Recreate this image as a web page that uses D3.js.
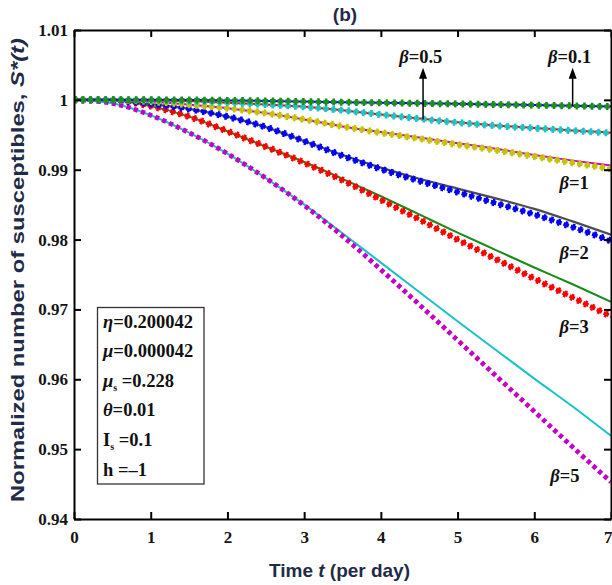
<!DOCTYPE html>
<html>
<head>
<meta charset="utf-8">
<script src="https://cdn.jsdelivr.net/npm/d3@7"></script>
<style>
body { margin: 0; background: #fff; }
svg { display: block; }
</style>
</head>
<body>
<svg width="612" height="585"></svg>
<script>
const width = 612;
const height = 585;
const margin = {top: 30, right: 1, bottom: 66, left: 74};

// time points (days)
const time = [0, 0.5, 1, 1.5, 2, 2.5, 3, 3.5, 4, 4.5, 5, 5.5, 6, 6.5, 7];

// beta = 0.1
const b01Marks = [1, 1, 1, 0.99998, 0.99992, 0.99985, 0.99975, 0.99966, 0.99958, 0.9995, 0.99942, 0.99933, 0.99924, 0.99914, 0.99903];
const b01Line  = [1, 1, 1, 0.99998, 0.99992, 0.99985, 0.99976, 0.99967, 0.99959, 0.99951, 0.99943, 0.99935, 0.99926, 0.99916, 0.99905];
// beta = 0.5
const b05Marks = [1, 1, 0.99995, 0.99982, 0.9996, 0.99932, 0.999, 0.9985, 0.9979, 0.9973, 0.99675, 0.9963, 0.99595, 0.9956, 0.99525];
const b05Line  = [1, 1, 0.99995, 0.99982, 0.9996, 0.99932, 0.999, 0.9985, 0.9979, 0.99732, 0.99678, 0.99633, 0.99598, 0.99563, 0.9953];
// beta = 1
const b1Marks = [1, 1, 0.99976, 0.9993, 0.9988, 0.9981, 0.9972, 0.9962, 0.9953, 0.99445, 0.9936, 0.9928, 0.9919, 0.991, 0.9901];
const b1Line  = [1, 1, 0.99976, 0.9993, 0.9988, 0.9981, 0.9972, 0.9962, 0.9954, 0.9946, 0.9938, 0.993, 0.9921, 0.9913, 0.9906];
// beta = 2
const b2Marks = [1, 0.99995, 0.9994, 0.9987, 0.9976, 0.9961, 0.9941, 0.992, 0.9901, 0.9884, 0.9868, 0.9852, 0.9836, 0.9818, 0.9798];
const b2Line  = [1, 0.99995, 0.9994, 0.9987, 0.9976, 0.9961, 0.9941, 0.9921, 0.9903, 0.9887, 0.9873, 0.9859, 0.9844, 0.9826, 0.9807];
// beta = 3
const b3Marks = [1, 0.99995, 0.9991, 0.9976, 0.9955, 0.9933, 0.9910, 0.9885, 0.9857, 0.9829, 0.98, 0.9772, 0.9744, 0.9717, 0.969];
const b3Line  = [1, 0.99995, 0.9991, 0.9976, 0.9955, 0.9933, 0.9911, 0.9887, 0.9862, 0.9836, 0.981, 0.9785, 0.976, 0.9736, 0.9711];
// beta = 5
const b5Marks = [1, 0.9995, 0.9978, 0.9953, 0.9923, 0.9888, 0.9849, 0.9805, 0.9757, 0.9707, 0.9656, 0.9605, 0.9554, 0.9503, 0.9453];
const b5Line  = [1, 0.9995, 0.9978, 0.9953, 0.9923, 0.9888, 0.985, 0.9809, 0.9767, 0.9725, 0.9683, 0.9642, 0.9601, 0.9561, 0.9519];

const xTicks = [0, 1, 2, 3, 4, 5, 6, 7];
const yTicks = [0.94, 0.95, 0.96, 0.97, 0.98, 0.99, 1, 1.01];

// beta labels: text, t, value
const betaNames = ["0.1", "0.5", "1", "2", "3", "5"];
const betaLabelT = [6.46, 4.52, 6.52, 6.52, 6.52, 6.4];
const betaLabelV = [1.0061, 1.0061, 0.9881, 0.9781, 0.9675, 0.9461];
// arrows for beta = 0.5 and beta = 0.1: t, from, to
const arrowT = [4.55, 6.5];
const arrowFrom = [0.99718, 0.99912];
const arrowTo = [1.0046, 1.0046];

// parameter box
const paramNames = ["η", "μ", "μ", "θ", "I", "h"];
const paramSubs = ["", "", "s", "", "s", ""];
const paramValues = ["0.200042", "0.000042", "0.228", "0.01", "0.1", "–1"];

const svg = d3.select("svg")
    .attr("viewBox", [0, 0, width, height]);

svg.append("rect").attr("width", width).attr("height", height).attr("fill", "#fff");

const x = d3.scaleLinear()
    .domain([0, 7])
    .range([margin.left, width - margin.right]);

const y = d3.scaleLinear()
    .domain([0.94, 1.01])
    .range([height - margin.bottom, margin.top]);

const line = d3.line()
    .x((d, i) => x(time[i]))
    .y(d => y(d))
    .curve(d3.curveMonotoneX);

svg.append("clipPath").attr("id", "clip")
  .append("rect")
    .attr("x", margin.left).attr("y", margin.top)
    .attr("width", width - margin.left - margin.right)
    .attr("height", height - margin.top - margin.bottom);

const plot = svg.append("g").attr("clip-path", "url(#clip)");

function solid(values, color, w) {
    plot.append("path")
        .datum(values)
        .attr("d", line)
        .attr("fill", "none")
        .attr("stroke", color)
        .attr("stroke-width", w || 2);
}

// "+" markers built from two dash patterns on the same path
function plus(values, color) {
    plot.append("path")
        .datum(values)
        .attr("d", line)
        .attr("fill", "none")
        .attr("stroke", color)
        .attr("stroke-width", 7)
        .attr("stroke-dasharray", "2.6 5")
        .attr("stroke-dashoffset", 0);
    plot.append("path")
        .datum(values)
        .attr("d", line)
        .attr("fill", "none")
        .attr("stroke", color)
        .attr("stroke-width", 4)
        .attr("stroke-dasharray", "5.6 2")
        .attr("stroke-dashoffset", 1.5);
}

function squares(values, color) {
    plot.append("path")
        .datum(values)
        .attr("d", line)
        .attr("fill", "none")
        .attr("stroke", color)
        .attr("stroke-width", 4.8)
        .attr("stroke-dasharray", "4.2 3.4");
}

solid(b5Line, "#18c3c8");
squares(b5Marks, "#c400c4");
solid(b3Line, "#178c17");
plus(b3Marks, "#ff0000");
solid(b2Line, "#4d4d4d", 2.2);
plus(b2Marks, "#0000ff");
solid(b1Line, "#d000d0");
plus(b1Marks, "#c6c400");
solid(b05Line, "#ff0000");
plus(b05Marks, "#1cc4c4");
solid(b01Line, "#0000ff");
plus(b01Marks, "#1e8c1e");

// axes
const tickFont = "bold 17px 'Liberation Serif', 'Times New Roman', serif";

const xAxis = svg.append("g")
    .attr("transform", `translate(0,${height - margin.bottom})`)
    .call(d3.axisBottom(x).tickValues(xTicks).tickFormat(d3.format("d"))
        .tickSizeInner(-7).tickSizeOuter(0).tickPadding(12));

// last label sits at the right edge
xAxis.selectAll(".tick text").filter(d => d === 7)
    .attr("text-anchor", "end").attr("dx", 1);

const yAxis = svg.append("g")
    .attr("transform", `translate(${margin.left},0)`)
    .call(d3.axisLeft(y).tickValues(yTicks).tickFormat(d => d3.format("~g")(+d.toFixed(2)))
        .tickSizeInner(-7).tickSizeOuter(0).tickPadding(6));

svg.append("g")
    .attr("transform", `translate(0,${margin.top})`)
    .call(d3.axisTop(x).tickValues(xTicks).tickFormat("")
        .tickSizeInner(-7).tickSizeOuter(0));

svg.append("g")
    .attr("transform", `translate(${width - margin.right},0)`)
    .call(d3.axisRight(y).tickValues(yTicks).tickFormat("")
        .tickSizeInner(-7).tickSizeOuter(0));

svg.selectAll(".domain").attr("stroke", "#000").attr("stroke-width", 2);
svg.selectAll(".tick line").attr("stroke", "#000").attr("stroke-width", 2);
svg.selectAll(".tick text")
    .style("font", tickFont)
    .attr("fill", "#141414");

// titles
const titleColor = "#1f2b48";
const sans = "'Liberation Sans', Arial, sans-serif";

svg.append("text")
    .attr("x", 345)
    .attr("y", 21)
    .attr("text-anchor", "middle")
    .style("font", `bold 19px ${sans}`)
    .attr("fill", titleColor)
    .text("(b)");

const xl = svg.append("text")
    .attr("x", 339.5)
    .attr("y", 577)
    .attr("text-anchor", "middle")
    .attr("textLength", 141)
    .attr("lengthAdjust", "spacingAndGlyphs")
    .style("font", `bold 19px ${sans}`)
    .attr("fill", titleColor);
xl.append("tspan").text("Time ");
xl.append("tspan").attr("font-style", "italic").text("t");
xl.append("tspan").text(" (per day)");

const yl = svg.append("text")
    .attr("transform", "translate(24,270) rotate(-90)")
    .attr("text-anchor", "middle")
    .attr("textLength", 464)
    .attr("lengthAdjust", "spacingAndGlyphs")
    .style("font", `bold 19px ${sans}`)
    .attr("fill", titleColor);
yl.append("tspan").text("Normalized number of susceptibles, ");
yl.append("tspan").attr("font-style", "italic").text("S*(t)");

// beta labels
const serif = "'Liberation Serif', 'Times New Roman', serif";
betaNames.forEach((b, i) => {
    const t = svg.append("text")
        .attr("x", x(betaLabelT[i]))
        .attr("y", y(betaLabelV[i]) + 6)
        .attr("text-anchor", "middle")
        .style("font", `bold 18.5px ${serif}`)
        .attr("fill", "#111");
    t.append("tspan").attr("font-style", "italic").text("β");
    t.append("tspan").text("=" + b);
});

// arrows
arrowT.forEach((t, i) => {
    const ax = x(t);
    svg.append("line")
        .attr("x1", ax).attr("x2", ax)
        .attr("y1", y(arrowFrom[i])).attr("y2", y(arrowTo[i]) + 8)
        .attr("stroke", "#000")
        .attr("stroke-width", 1.5);
    svg.append("path")
        .attr("d", `M${ax},${y(arrowTo[i])} L${ax - 4},${y(arrowTo[i]) + 11} L${ax + 4},${y(arrowTo[i]) + 11} Z`)
        .attr("fill", "#000");
});

// parameter box
const box = svg.append("g");
box.append("rect")
    .attr("x", 97.5).attr("y", 307.5)
    .attr("width", 106.5).attr("height", 176.5)
    .attr("fill", "#fff")
    .attr("stroke", "#333")
    .attr("stroke-width", 1.3);

paramNames.forEach((p, i) => {
    const t = box.append("text")
        .attr("x", 103)
        .attr("y", 327.5 + i * 29.6)
        .style("font", `bold 18.5px ${serif}`)
        .attr("fill", "#111");
    const greek = /[α-ω]/.test(p);
    t.append("tspan").attr("font-style", greek ? "italic" : "normal").text(p);
    if (paramSubs[i]) {
        t.append("tspan").attr("font-size", "10px").attr("dy", 4).text(paramSubs[i]);
        t.append("tspan").attr("dy", -4).text(" =" + paramValues[i]);
    } else {
        t.append("tspan").text((p === "h" ? " =" : "=") + paramValues[i]);
    }
});
</script>
</body>
</html>
